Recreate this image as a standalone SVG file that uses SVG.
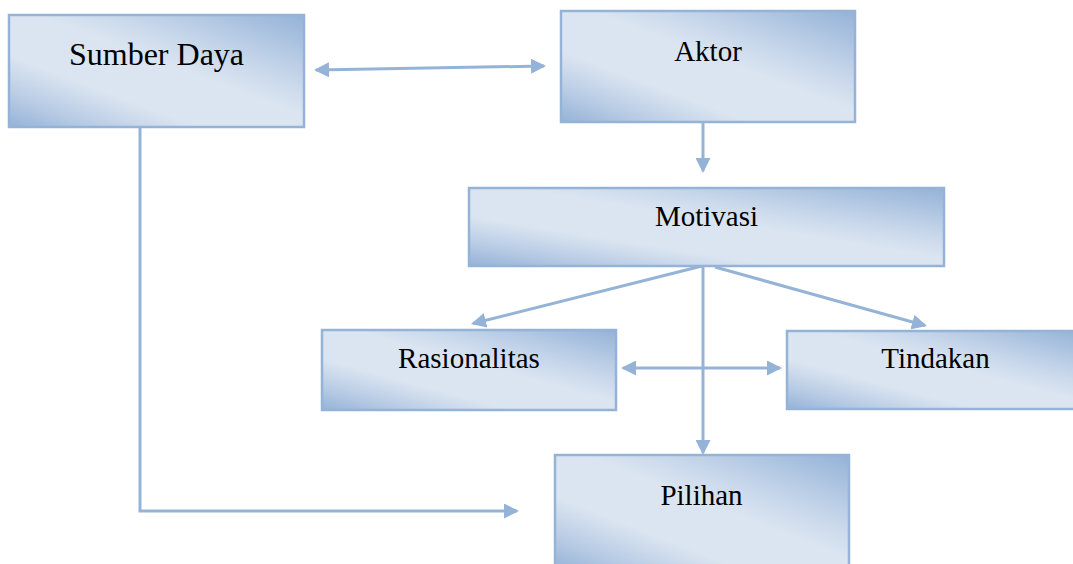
<svg xmlns="http://www.w3.org/2000/svg" width="1073" height="564" viewBox="0 0 1073 564">
  <defs>
    <linearGradient id="boxFill" x1="1" y1="0" x2="0" y2="1">
      <stop offset="0" stop-color="#94b2d7"/>
      <stop offset="0.3" stop-color="#c6d6ea"/>
      <stop offset="0.45" stop-color="#dbe5f1"/>
      <stop offset="0.68" stop-color="#dbe5f1"/>
      <stop offset="0.85" stop-color="#b9cce5"/>
      <stop offset="1" stop-color="#94b2d7"/>
    </linearGradient>
    <marker id="arrow" viewBox="0 0 15 15" refX="13" refY="7.5" markerWidth="15" markerHeight="15" markerUnits="userSpaceOnUse" orient="auto-start-reverse">
      <path d="M0,0 L15,7.5 L0,15 z" fill="#95b3d7"/>
    </marker>
  </defs>
  <style>
    .box { fill: url(#boxFill); stroke: #95b3d7; stroke-width: 2.5; }
    .conn { fill: none; stroke: #95b3d7; stroke-width: 3; }
  </style>
  <rect width="1073" height="564" fill="#ffffff"/>

  <g id="connectors">
    <line class="conn" x1="316" y1="70" x2="544" y2="66" marker-start="url(#arrow)" marker-end="url(#arrow)"/>
    <line class="conn" x1="703" y1="118" x2="703" y2="171" marker-end="url(#arrow)"/>
    <line class="conn" x1="702" y1="266" x2="473" y2="323.5" marker-end="url(#arrow)"/>
    <line class="conn" x1="715" y1="267" x2="925" y2="325.5" marker-end="url(#arrow)"/>
    <line class="conn" x1="703" y1="266" x2="703" y2="453" marker-end="url(#arrow)"/>
    <line class="conn" x1="623" y1="368" x2="780" y2="368" marker-start="url(#arrow)" marker-end="url(#arrow)"/>
    <path class="conn" d="M140,127 V511 H517" marker-end="url(#arrow)"/>
  </g>

  <g font-family="Liberation Serif, Times New Roman, serif" font-size="29" fill="#000000" text-anchor="middle">
    <g id="node-sumber-daya">
      <rect class="box" x="9" y="15" width="295" height="112"/>
      <text x="156.5" y="65" font-size="32">Sumber Daya</text>
    </g>
    <g id="node-aktor">
      <rect class="box" x="561" y="11" width="294" height="111"/>
      <text x="708" y="61">Aktor</text>
    </g>
    <g id="node-motivasi">
      <rect class="box" x="469" y="188" width="475" height="78"/>
      <text x="706.5" y="226">Motivasi</text>
    </g>
    <g id="node-rasionalitas">
      <rect class="box" x="322" y="330" width="294" height="80"/>
      <text x="469" y="368">Rasionalitas</text>
    </g>
    <g id="node-tindakan">
      <rect class="box" x="787" y="331" width="296" height="78"/>
      <text x="935.5" y="368">Tindakan</text>
    </g>
    <g id="node-pilihan">
      <rect class="box" x="555" y="455" width="294" height="115"/>
      <text x="701.5" y="505">Pilihan</text>
    </g>
  </g>
</svg>
